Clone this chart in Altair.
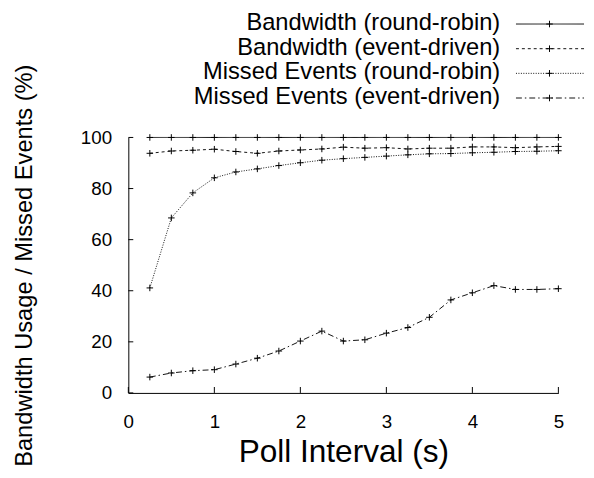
import altair as alt
import pandas as pd

# ---------------- data ----------------
poll_interval = [0.25, 0.5, 0.75, 1.0, 1.25, 1.5, 1.75, 2.0, 2.25, 2.5,
                 2.75, 3.0, 3.25, 3.5, 3.75, 4.0, 4.25, 4.5, 4.75, 5.0]

bandwidth_rr = [100, 100, 100, 100, 100, 100, 100, 100, 100, 100,
                100, 100, 100, 100, 100, 100, 100, 100, 100, 100]
bandwidth_ed = [93.8, 94.7, 95.0, 95.4, 94.5, 93.8, 94.7, 95.1, 95.5, 96.2,
                95.8, 96.0, 95.5, 95.8, 95.8, 96.3, 96.3, 96.0, 96.3, 96.5]
missed_rr = [41.1, 68.5, 78.3, 84.2, 86.5, 87.7, 89.0, 90.1, 91.1, 91.7,
             92.2, 92.7, 93.2, 93.6, 93.7, 94.0, 94.2, 94.5, 94.6, 94.8]
missed_ed = [6.2, 7.8, 8.7, 9.1, 11.3, 13.6, 16.4, 20.3, 24.2, 20.3,
             20.8, 23.4, 25.6, 29.6, 36.4, 39.2, 42.0, 40.5, 40.5, 40.8]

series_names = ["Bandwidth (round-robin)", "Bandwidth (event-driven)",
                "Missed Events (round-robin)", "Missed Events (event-driven)"]
series_values = [bandwidth_rr, bandwidth_ed, missed_rr, missed_ed]

x_ticks = [0, 1, 2, 3, 4, 5]
y_ticks = [0, 20, 40, 60, 80, 100]

x_title = "Poll Interval (s)"
y_title = "Bandwidth Usage / Missed Events (%)"

# ---------------- tables ----------------
rows = []
for name, vals in zip(series_names, series_values):
    for xv, yv in zip(poll_interval, vals):
        rows.append({"series": name, "x": xv, "value": yv})
df = pd.DataFrame(rows)

legend_df = pd.DataFrame({"series": series_names,
                          "row": list(range(len(series_names)))})
xt_df = pd.DataFrame({"t": x_ticks})
yt_df = pd.DataFrame({"t": y_ticks})

FONT = "Liberation Sans"
W, H = 436, 259

dash_scale = alt.Scale(domain=series_names,
                       range=[[1, 0], [3, 3], [1, 1.5], [6, 3, 1.5, 3]])

x_axis = alt.Axis(values=x_ticks, tickSize=0, ticks=False, labelPadding=20,
                  labelFontSize=19, labelFont=FONT, labelColor="black",
                  labelFlush=False, format="d", grid=False,
                  domainColor="black", domainWidth=1,
                  title=x_title, titleFont=FONT, titleFontSize=32,
                  titleFontWeight="normal", titleColor="black",
                  titleX=W / 2, titleY=60, titleBaseline="middle",
                  titleAlign="center")
x_scale = alt.Scale(domain=[0, 5], nice=False)

y_axis = alt.Axis(values=y_ticks, tickSize=0, ticks=False, labelPadding=17,
                  labelFontSize=19, labelFont=FONT, labelColor="black",
                  labelFlush=False, grid=False,
                  domainColor="black", domainWidth=1,
                  title=y_title, titleFont=FONT, titleFontSize=24,
                  titleFontWeight="normal", titleColor="black",
                  titleAngle=-90, titleX=-105, titleY=H / 2,
                  titleBaseline="middle", titleAlign="center")
y_scale = alt.Scale(domain=[0, 100], nice=False)

base = alt.Chart(df)

lines = base.mark_line(color="#111", strokeWidth=1).encode(
    x=alt.X("x:Q", scale=x_scale, axis=x_axis),
    y=alt.Y("value:Q", scale=y_scale, axis=y_axis),
    strokeDash=alt.StrokeDash("series:N", scale=dash_scale, legend=None),
    detail="series:N",
)

plus = "M-1,0L1,0M0,-1L0,1"
points = base.mark_point(shape=plus, size=44, filled=False, color="black",
                         strokeWidth=1, opacity=1).encode(
    x=alt.X("x:Q", scale=x_scale, axis=x_axis),
    y=alt.Y("value:Q", scale=y_scale, axis=y_axis),
    detail="series:N",
)

# inward ticks (gnuplot style)
xticks = alt.Chart(xt_df).mark_rule(color="black", strokeWidth=1).encode(
    x=alt.X("t:Q", scale=x_scale, axis=x_axis),
    y=alt.value(H),
    y2=alt.value(H - 6),
)
yticks = alt.Chart(yt_df).mark_rule(color="black", strokeWidth=1).encode(
    y=alt.Y("t:Q", scale=y_scale, axis=y_axis),
    x=alt.value(0),
    x2=alt.value(5),
)

# legend (gnuplot style key above the plot, top right)
leg = alt.Chart(legend_df).transform_calculate(
    ly="(259 + 115 - datum.row * 25) * 100 / 259"
)
leg_text = leg.mark_text(align="right", baseline="middle", font=FONT,
                         fontSize=24, color="black", dy=-1).encode(
    x=alt.value(377),
    y=alt.Y("ly:Q", scale=y_scale, axis=y_axis),
    text="series:N",
)
leg_line = leg.mark_rule(color="#111", strokeWidth=1).encode(
    x=alt.value(393),
    x2=alt.value(462),
    y=alt.Y("ly:Q", scale=y_scale, axis=y_axis),
    strokeDash=alt.StrokeDash("series:N", scale=dash_scale, legend=None),
)
leg_pt = leg.mark_point(shape=plus, size=44, filled=False, color="black",
                        strokeWidth=1, opacity=1).encode(
    x=alt.value(427),
    y=alt.Y("ly:Q", scale=y_scale, axis=y_axis),
)

chart = alt.layer(
    lines, points, xticks, yticks, leg_line, leg_pt, leg_text
).properties(
    width=W,
    height=H,
    autosize=alt.AutoSizeParams(type="none"),
    padding={"left": 122, "top": 128, "right": 28, "bottom": 83},
    background="white",
).configure_view(stroke=None)

chart.save("out.html", embed_options={"renderer": "svg", "actions": False})
